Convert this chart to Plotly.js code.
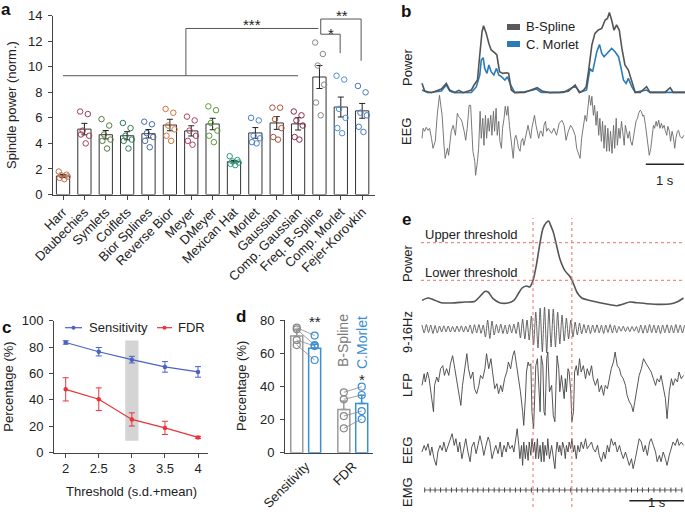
<!DOCTYPE html>
<html><head><meta charset="utf-8">
<script src="https://cdn.plot.ly/plotly-3.0.1.min.js"></script>
<style>html,body{margin:0;padding:0;background:#fff}#chart{width:685px;height:517px}</style>
</head><body><div id="chart"></div>
<script>
// ---------------- Panel a: spindle power per wavelet ----------------
const methods = ['Harr','Daubechies','Symlets','Coiflets','Bior Splines','Reverse Bior','Meyer','DMeyer','Mexican Hat','Morlet','Gaussian','Comp. Gaussian','Freq. B-Spline','Comp. Morlet','Fejer-Korovkin'];
const powerMean = [1.45,5.12,4.68,4.6,4.76,5.44,4.98,5.52,2.57,4.82,5.6,5.53,9.2,6.85,6.55];
const powerSem = [0.12,0.45,0.33,0.32,0.33,0.45,0.4,0.45,0.1,0.42,0.5,0.48,0.9,0.78,0.58];
const powerDots = [
  [1.8,1.55,1.5,1.4,1.3,1.2],
  [6.5,6.3,5.0,4.6,4.7,4.0],
  [5.9,5.4,4.7,4.3,4.2,3.6],
  [5.6,5.2,4.6,4.3,4.2,3.6],
  [5.7,5.5,4.8,4.5,4.2,3.7],
  [6.7,6.4,5.4,5.1,4.6,4.2],
  [6.1,5.8,5.0,4.6,4.2,3.9],
  [6.9,6.6,5.6,5.0,4.6,4.1],
  [3.0,2.7,2.6,2.5,2.4,2.3],
  [6.0,5.8,4.6,4.4,4.1,4.0],
  [6.8,6.8,5.9,5.2,4.5,4.3],
  [6.5,6.2,5.8,5.4,4.5,4.3],
  [11.9,11.0,10.1,8.6,7.2,6.2],
  [9.3,9.0,6.7,6.0,5.2,4.8],
  [8.5,8.0,6.4,6.2,5.3,4.9]
];
const dotColors = ['#c0704a','#a0405a','#5a7a40','#2f7a5a','#4a6aa0','#d8703a','#b04060','#5a9a3a','#2a9a80','#4a80c8','#b0503a','#8a2a4a','#888888','#4a90d8','#4a78c0'];

// ---------------- Panel b: power traces and EEG ----------------
const bsplineT = [0,0.07,0.25,0.51,0.64,0.73,0.86,0.97,1.08,1.30,1.37,1.46,1.52,1.58,1.62,1.69,1.76,1.82,1.91,1.97,2.04,2.13,2.22,2.28,2.35,2.44,2.70,2.92,3.03,3.16,3.37,3.63,3.85,4.03,4.14,4.25,4.32,4.38,4.47,4.55,4.64,4.73,4.82,4.88,4.93,4.99,5.05,5.12,5.19,5.26,5.34,5.43,5.52,5.61,5.74,5.91,6.00,6.26,6.39,6.53,6.61,6.92];
const bsplineP = [9.4,1.7,0,3.7,9.3,2.7,0.3,2.3,0,2.7,7.7,12.7,37.7,61,67,59.3,49.3,42.7,40,37.7,21,19.3,20,19.3,2.7,0,0.3,3.3,5,1.7,0,0.3,1.5,7.7,0,2.5,6,21,47.7,59.3,62.7,64.3,72.7,74.3,80.3,72.7,62.7,67.7,62.7,44.3,27.7,22.7,11,0.3,0.3,6,0.3,0.3,0.3,5,0.3,0.3];
const cmorletT = [0,0.16,0.51,0.64,0.73,0.86,1.30,1.43,1.52,1.56,1.61,1.65,1.71,1.76,1.82,1.89,1.96,2.02,2.09,2.18,2.25,2.33,2.44,2.70,2.92,3.01,3.14,3.72,4.03,4.16,4.33,4.42,4.49,4.60,4.67,4.73,4.79,4.90,4.99,5.08,5.17,5.23,5.30,5.37,5.43,5.52,5.61,5.91,6.00,6.92];
const cmorletP = [2.7,0,1.7,7.7,1.7,0,0.3,6,17.7,32.7,35,24.3,19.3,27.7,21,17.7,24.3,17.7,16,12.7,16,7.7,0.3,1,2.7,3.7,0.3,0.3,6.7,0.3,2.7,24.3,21,41,48.3,39.3,36,41,44.3,41,36,26,12.7,9.3,14.3,6,0.3,2.7,0.3,0.3];
const eegBT = [0.00,0.03,0.07,0.11,0.16,0.20,0.25,0.29,0.35,0.40,0.46,0.53,0.58,0.61,0.67,0.70,0.74,0.77,0.82,0.88,0.93,0.96,1.01,1.05,1.11,1.15,1.19,1.24,1.28,1.32,1.34,1.39,1.41,1.46,1.49,1.53,1.56,1.60,1.63,1.67,1.70,1.74,1.77,1.81,1.84,1.88,1.91,1.95,1.98,2.02,2.05,2.09,2.12,2.16,2.19,2.23,2.26,2.30,2.33,2.37,2.40,2.44,2.47,2.51,2.54,2.58,2.61,2.65,2.68,2.72,2.75,2.79,2.82,2.86,2.89,2.93,2.96,3.00,3.04,3.07,3.11,3.14,3.18,3.21,3.25,3.28,3.32,
  3.41,3.47,3.54,3.61,3.68,3.74,3.79,3.85,3.91,3.96,4.03,4.07,4.11,4.16,4.20,4.25,4.29,4.33,4.38,4.40,4.44,4.47,4.51,4.54,4.58,4.61,4.65,4.68,4.72,4.75,4.79,4.82,4.86,4.89,4.93,4.96,5.00,5.04,5.07,5.11,5.14,5.18,5.21,5.25,5.28,5.32,5.35,5.39,5.42,5.46,5.49,5.53,5.56,5.60,5.63,5.67,5.70,5.74,5.77,5.81,5.84,5.88,5.91,5.95,5.98,6.02,6.05,6.09,6.12,6.16,6.19,6.23,6.26,6.30,6.33,6.37,6.40,6.44,6.47,6.51,6.54,6.58,6.61,6.65,6.68,6.72,6.75,6.79,6.84,6.89];
const eegBV = [0,10,7,11,8,10,0,-10,-3,23,43,23,-7,-20,-10,-17,-3,7,13,3,25,22,20,17,7,-2,10,33,33,7,-13,-23,-37,-23,-10,27,0,20,-7,23,0,20,7,23,3,27,7,30,3,17,-3,-10,10,20,32,23,32,13,3,-7,-20,0,3,-3,-10,-13,-3,0,-7,0,7,13,7,0,10,18,23,13,3,0,7,7,2,13,17,7,10,
  5,10,3,15,18,13,-2,7,13,10,3,-10,-15,-20,0,13,23,17,40,43,33,42,23,33,13,27,3,20,-3,17,-10,13,-13,10,-13,7,-15,13,-10,20,-7,10,0,17,7,-7,13,3,0,7,-3,-7,0,10,17,20,25,28,27,22,23,13,3,-7,-17,-10,3,13,10,17,12,18,10,15,10,13,8,3,12,7,-3,7,2,-10,0,7,8,2,0,3];

// ---------------- Panel c: threshold sweep ----------------
const thresholds = [2,2.5,3,3.5,4];
const thresholdLabels = ['2','2.5','3','3.5','4'];
const sensitivity = [83.5,76.5,70.5,65,61.2];
const sensitivityErr = [1.3,3.2,2.5,4,4];
const fdr = [48,40.5,25.2,18.8,11.6];
const fdrErr = [8.8,8.6,5,5,0.8];

// ---------------- Panel d: B-Spline vs C.Morlet ----------------
const dCategories = ['Sensitivity','FDR'];
const bsplineMean = [70.4,26.1];
const bsplineErr = [4,5];
const cmorletMean = [62.9,29.7];
const cmorletErr = [2.5,5];
const bsplineDots = [[75.4,74.4,67.9,64.9],[36.4,32.2,22.1,14.7]];
const cmorletDots = [[70.6,64.9,64.3,55.9],[39.8,34.8,25.1,20.3]];

// ---------------- Panel e: detection example ----------------
const ePowerT = [0,0.11,0.20,0.35,0.54,0.78,0.96,1.05,1.15,1.21,1.30,1.42,1.57,1.68,1.76,1.83,1.91,1.97,2.03,2.09,2.15,2.21,2.27,2.32,2.34,2.40,2.46,2.52,2.61,2.71,2.77,2.83,2.92,3.07,3.25,3.44,3.56,3.68,3.80,3.92,4.11,4.35,4.53,4.66,4.78];
const ePowerV = [8.3,10.7,9.3,6,5.7,6.7,7.3,11.7,17.3,16.7,10,6,5.7,8.3,15,20.7,22.7,21.7,28.3,43.3,63.3,80,86,87.5,85,76.7,63.3,50,38.3,31.7,25,16.7,10.7,8.3,6,4,3,4.7,6.7,6,5,4.3,4.7,6.7,10.7];
const upperThreshold = 66;
const lowerThreshold = 28.4;
const spindleStart = 2.03;
const spindleEnd = 2.74;
const bandpassDt = 0.04;
const bandpassV = [4,-4,4.5,-3.5,4,-4.5,3.5,-4, 3,-3,3.2,-2.8,3,-3,2.5,-3,3,-2.7,3.2,-3,2.8,-3, 4,-4.5,4.3,-4,4.5,-4.3,4, -8,9,-9.5,8,-6, 4.5,-4,5,-4.5,4,-5,4.5,-4,5,-4.5, 7,-9,10,-10,9,-11, 13,-16,17, -19,21,-23,22,-24,20,-18,20, -18,17,-15,14, -12,11,-10,9,-8, 7,-6,6,-5, 4.5,-4,4,-4.5,4,-3.5,4.2,-4,3.8,-4.5,4,-3.5,4.5,-4,3.7,-3.8, 2.5,-2.2,2.7,-2.5,2.2,-2.7,2.5,-2.2,2.5, -3.8,4,-4.2,3.7,-4,4.5,-3.7,4,-4,3.7,-4.5,4,-3.7,4.2,-4,3.7,-4,4.5,-3.7,4,-4,3.7];
const lfpTimeA = [0.00,0.04,0.06,0.10,0.13,0.17,0.21,0.23,0.27,0.30,0.34,0.38,0.41,0.45,0.49,0.52,0.56,0.60,0.63,0.67,0.71,0.74,0.78,0.82,0.85,0.89,0.93,0.96,1.00,1.04,1.07,1.11,1.15,1.18,1.22,1.26,1.29,1.33,1.37,1.40,1.44,1.47,1.51,1.55,1.58,1.62,1.66,1.69,1.73,1.77,1.80,1.84,1.86,1.89,1.91,1.94,1.96,1.99,2.01,2.04,2.06,2.08,2.11,2.13,2.16,2.18,2.21,2.23,2.25,2.28,2.30,2.33];
const eegTimeA = [0.00,0.04,0.07,0.11,0.15,0.18,0.22,0.26,0.29,0.33,0.37,0.40,0.44,0.48,0.51,0.55,0.59,0.62,0.66,0.69,0.73,0.77,0.80,0.84,0.88,0.91,0.95,0.99,1.02,1.06,1.10,1.13,1.17,1.21,1.24,1.28,1.32,1.35,1.39,1.43,1.46,1.50,1.54,1.57,1.61,1.65,1.68,1.72,1.74,1.77,1.79,1.82,1.84,1.86,1.89,1.91,1.94,1.96,1.99,2.01,2.04,2.06,2.08,2.11,2.13,2.16,2.18,2.21,2.23,2.25,2.28,2.30,2.33];
const tailTime = [2.37,2.40,2.43,2.45,2.47,2.50,2.52,2.55,2.57,2.60,2.62,2.64,2.67,2.69,2.72,2.74,2.77,2.79,2.82,2.85,2.88,2.91,2.95,2.99,3.02,3.06,3.10,3.13,3.17,3.21,3.24,3.28,3.32,3.35,3.39,3.42,3.46,3.50,3.53,3.57,3.61,3.64,3.68,3.72,3.75,3.79,3.83,3.86,3.90,3.94,3.97,4.01,4.05,4.08,4.12,4.16,4.19,4.23,4.27,4.30,4.34,4.37,4.41,4.45,4.48,4.52,4.56,4.59,4.63,4.67,4.70,4.74,4.78];
const lfpV = [-6.7,5,-3.3,6.7,0,-16.7,-33,-6.7,1.7,-3.3,10,13,3.3,10,3.3,15,23,10,0,-10,-26.7,-6.7,10,25,10,0,6.7,-10,-15,-6.7,3.3,0,10,25,10,20,6.7,-10,-5,-15,-6.7,-13,0,6.7,16.7,10,23,28,13,0,-13,-33,-46.7,-20,6.7,16.7,13,15,-33,-50,-13,13,20,-6.7,-33,23,13,-33,-36.7,20,26.7,-13,
  -6.7,-36.7,-43,-6.7,23,10,-13,3.3,-6.7,-20,0,-13,10,6.7,-13,-43,-33,6.7,13,3.3,20,6.7,13,0,10,3.3,13,0,-6.7,0,-13,-6.7,-16.7,-6.7,-10,0,10,16.7,26.7,13,10,3.3,0,-6.7,-16.7,-23,-26.7,-33,-20,-6.7,3.3,10,20,16.7,13,10,6.7,0,-6.7,0,-3.3,3.3,-10,-20,-40,-13,0,-6.7,0,-3.3,6.7,0,3.3];
const eegEV = [-3.3,3.3,-1.7,5,-6.7,1.7,-10,-16.7,-3.3,3.3,-1.7,6.7,-3.3,3.3,10,15,3.3,10,-3.3,6.7,-10,3.3,10,-3.3,-13,1.7,6.7,-5,3.3,13,3.3,-6.7,3.3,11.7,6.7,-10,-1.7,3.3,-5,6.7,-8.3,3.3,-3.3,6.7,0,3.3,-3.3,13,
  20,3.3,-10,3.3,-16.7,6.7,-10,3.3,-11.7,6.7,-6.7,10,-3.3,6.7,-10,10,-10,3.3,-13,6.7,-13,3.3,-6.7,10,-10,
  3.3,-10,-20,-3.3,6.7,-3.3,3.3,-6.7,6.7,0,-10,3.3,-3.3,6.7,0,10,-3.3,3.3,-10,3.3,-3.3,6.7,0,10,0,3.3,6.7,0,-3.3,3.3,-6.7,-13,-3.3,-10,3.3,-3.3,10,3.3,6.7,-3.3,3.3,-3.3,-10,-3.3,-10,-16.7,-10,-20,-10,3.3,10,6.7,-3.3,3.3,-6.7,6.7,10,3.3,-3.3,-13,-6.7,-13,-3.3,-10,-16.7,-6.7,0,6.7,3.3,10,3.3,6.7,3.3];
const emgT = [0.05,0.15,0.24,0.34,0.44,0.54,0.63,0.73,0.83,0.93,1.02,1.12,1.22,1.32,1.41,1.51,1.61,1.71,1.80,1.90,2.00,2.11,2.21,2.32,2.40,2.51,2.61,2.72,2.83,2.92,3.02,3.12,3.22,3.31,3.42,3.53,3.62,3.73,3.83,3.94,4.03,4.14,4.24,4.35,4.44,4.55,4.64,4.75];
const emgV = [0,0,0,0,0,0,0,0,0,0,0,0,0,0,0,0,0,0,0,0,0,0,0,0,0,0,0,0,0,0,0,0,0,0,0,0,0,0,0,0,0,0,0,0,0,0,0,0];

// ---------------- helpers ----------------
const FONT = 'Liberation Sans, Arial, Helvetica, sans-serif';
const W = 685, H = 517;
const PX = x => x / W, PY = y => 1 - y / H;
const TXT = '#222', AX = '#444';
const annotations = [], shapes = [], traces = [];
function ann(text, x, y, o) {
  annotations.push(Object.assign({text: text, x: x, y: y, xref: 'paper', yref: 'paper', showarrow: false,
    xanchor: 'center', yanchor: 'middle', font: {family: FONT, size: 13, color: TXT}}, o || {}));
}
function lineShape(x0, y0, x1, y1, o) {
  shapes.push(Object.assign({type: 'line', x0: x0, y0: y0, x1: x1, y1: y1, xref: 'paper', yref: 'paper',
    line: {color: AX, width: 1}}, o || {}));
}
const axBase = {showgrid: false, zeroline: false, showline: true, linecolor: AX, linewidth: 1,
  ticks: 'outside', ticklen: 4, tickcolor: AX, tickwidth: 1, tickfont: {family: FONT, size: 13, color: TXT}, fixedrange: true};
const hidden = {visible: false, fixedrange: true};

// ---------------- Panel a traces ----------------
const aIdx = methods.map((m, i) => i);
traces.push({type: 'bar', x: aIdx, y: powerMean, width: 0.62, xaxis: 'x', yaxis: 'y',
  marker: {color: '#fff', line: {color: '#333', width: 1}},
  error_y: {type: 'data', array: powerSem, color: '#222', thickness: 1, width: 3}, hoverinfo: 'skip'});
const JIT = [-0.2, 0.16, -0.08, 0.22, -0.16, 0.06];
const dX = [], dY = [], dC = [];
powerDots.forEach((arr, i) => arr.forEach((v, j) => { dX.push(i + JIT[j]); dY.push(v); dC.push(dotColors[i]); }));
traces.push({type: 'scatter', mode: 'markers', x: dX, y: dY, xaxis: 'x', yaxis: 'y',
  marker: {symbol: 'circle-open', size: 5.5, color: dC, line: {width: 1}}, hoverinfo: 'skip'});
// significance brackets
const sLine = {color: '#555', width: 1};
shapes.push({type: 'line', xref: 'x', yref: 'y', x0: 0, x1: 11, y0: 9.3, y1: 9.3, line: sLine});
shapes.push({type: 'path', xref: 'x', yref: 'y', path: 'M 5.75 9.3 L 5.75 13.0 L 11.95 13.0', line: sLine});
shapes.push({type: 'path', xref: 'x', yref: 'y', path: 'M 12.06 12.55 L 12.06 13.74 L 13.95 13.74 L 13.95 10.47', line: sLine});
shapes.push({type: 'path', xref: 'x', yref: 'y', path: 'M 12.06 12.55 L 12.97 12.55 L 12.97 11.07', line: sLine});
const starFont = {family: FONT, size: 15, color: TXT};
annotations.push({text: '***', x: 8.83, y: 13.3, xref: 'x', yref: 'y', showarrow: false, font: starFont});
annotations.push({text: '*', x: 12.55, y: 12.59, xref: 'x', yref: 'y', showarrow: false, font: starFont});
annotations.push({text: '**', x: 13.05, y: 13.98, xref: 'x', yref: 'y', showarrow: false, font: starFont});

// ---------------- Panel b traces ----------------
traces.push({type: 'scatter', mode: 'lines', x: cmorletT, y: cmorletP, xaxis: 'x2', yaxis: 'y2',
  line: {color: '#2b7bb9', width: 1.6}, hoverinfo: 'skip'});
traces.push({type: 'scatter', mode: 'lines', x: bsplineT, y: bsplineP, xaxis: 'x2', yaxis: 'y2',
  line: {color: '#555', width: 1.6}, hoverinfo: 'skip'});
traces.push({type: 'scatter', mode: 'lines', x: eegBT, y: eegBV, xaxis: 'x2', yaxis: 'y3',
  line: {color: '#6a6a6a', width: 0.9}, hoverinfo: 'skip'});
shapes.push({type: 'rect', xref: 'paper', yref: 'paper', x0: PX(507), x1: PX(520), y0: PY(30), y1: PY(24), fillcolor: '#5a5a5a', line: {width: 0}});
shapes.push({type: 'rect', xref: 'paper', yref: 'paper', x0: PX(507), x1: PX(520), y0: PY(47), y1: PY(41), fillcolor: '#2b7bb9', line: {width: 0}});
ann('B-Spline', PX(524), PY(27), {xanchor: 'left'});
ann('C. Morlet', PX(524), PY(44), {xanchor: 'left'});
ann('Power', PX(407), PY(67), {textangle: -90});
ann('EEG', PX(407), PY(132), {textangle: -90});
shapes.push({type: 'line', xref: 'x2', yref: 'paper', x0: 5.89, x1: 6.89, y0: PY(164.3), y1: PY(164.3), line: {color: '#222', width: 1.5}});
annotations.push({text: '1 s', x: 6.39, y: PY(181), xref: 'x2', yref: 'paper', showarrow: false, font: {family: FONT, size: 13, color: TXT}});

// ---------------- Panel c traces ----------------
shapes.push({type: 'rect', xref: 'x3', yref: 'y4', x0: 2.9, x1: 3.1, y0: 9, y1: 85, fillcolor: '#d4d4d4', line: {width: 0}, layer: 'below'});
traces.push({type: 'scatter', mode: 'lines+markers', name: 'Sensitivity', x: thresholds, y: sensitivity, xaxis: 'x3', yaxis: 'y4',
  line: {color: '#4a63c4', width: 1.2}, marker: {color: '#4a63c4', size: 4.5},
  error_y: {type: 'data', array: sensitivityErr, color: '#4a63c4', thickness: 1, width: 3}, hoverinfo: 'skip'});
traces.push({type: 'scatter', mode: 'lines+markers', name: 'FDR', x: thresholds, y: fdr, xaxis: 'x3', yaxis: 'y4',
  line: {color: '#e8343a', width: 1.2}, marker: {color: '#e8343a', size: 4.5},
  error_y: {type: 'data', array: fdrErr, color: '#e8343a', thickness: 1, width: 3}, hoverinfo: 'skip'});
lineShape(PX(65), PY(327.7), PX(82), PY(327.7), {line: {color: '#4a63c4', width: 1.2}});
shapes.push({type: 'circle', xref: 'paper', yref: 'paper', x0: PX(71.5), x1: PX(75.5), y0: PY(329.7), y1: PY(325.7), fillcolor: '#4a63c4', line: {width: 0}});
lineShape(PX(157), PY(327.7), PX(172), PY(327.7), {line: {color: '#e8343a', width: 1.2}});
shapes.push({type: 'circle', xref: 'paper', yref: 'paper', x0: PX(162.5), x1: PX(166.5), y0: PY(329.7), y1: PY(325.7), fillcolor: '#e8343a', line: {width: 0}});
ann('Sensitivity', PX(87), PY(327.7), {xanchor: 'left'});
ann('FDR', PX(176), PY(327.7), {xanchor: 'left'});
ann('Threshold (s.d.+mean)', PX(131), PY(491.7));
ann('Percentage (%)', PX(9), PY(386.7), {textangle: -90});

// ---------------- Panel d traces ----------------
const OFF = 0.19, BW = 0.255;
const catX = dCategories.map((c, i) => i + 1);
const zeros = catX.map(() => 0);
traces.push({type: 'bar', x: catX.map(v => v - OFF), y: bsplineMean, width: BW, xaxis: 'x4', yaxis: 'y5',
  marker: {color: '#fff', line: {color: '#9a9a9a', width: 1.5}},
  error_y: {type: 'data', symmetric: false, array: bsplineErr, arrayminus: zeros, color: '#9a9a9a', thickness: 1.5, width: 3}, hoverinfo: 'skip'});
traces.push({type: 'bar', x: catX.map(v => v + OFF), y: cmorletMean, width: BW, xaxis: 'x4', yaxis: 'y5',
  marker: {color: '#fff', line: {color: '#3b8fd1', width: 1.5}},
  error_y: {type: 'data', symmetric: false, array: cmorletErr, arrayminus: zeros, color: '#3b8fd1', thickness: 1.5, width: 3}, hoverinfo: 'skip'});
const pX = [], pY = [], bX = [], bY = [], cX = [], cY = [];
catX.forEach((c, k) => {
  bsplineDots[k].forEach((v, i) => {
    pX.push(c - OFF, c + OFF, null); pY.push(v, cmorletDots[k][i], null);
    bX.push(c - OFF); bY.push(v); cX.push(c + OFF); cY.push(cmorletDots[k][i]);
  });
});
traces.push({type: 'scatter', mode: 'lines', x: pX, y: pY, xaxis: 'x4', yaxis: 'y5', line: {color: '#888', width: 0.8}, hoverinfo: 'skip'});
traces.push({type: 'scatter', mode: 'markers', x: bX, y: bY, xaxis: 'x4', yaxis: 'y5',
  marker: {symbol: 'circle-open', size: 7, color: '#8a8a8a', line: {width: 1.2}}, hoverinfo: 'skip'});
traces.push({type: 'scatter', mode: 'markers', x: cX, y: cY, xaxis: 'x4', yaxis: 'y5',
  marker: {symbol: 'circle-open', size: 7, color: '#3b8fd1', line: {width: 1.2}}, hoverinfo: 'skip'});
annotations.push({text: '**', x: 1 + OFF, y: 78.8, xref: 'x4', yref: 'y5', showarrow: false, font: starFont});
annotations.push({text: '*', x: 2 + OFF, y: 44.3, xref: 'x4', yref: 'y5', showarrow: false, font: starFont});
ann('B-Spline', PX(343), PY(341), {textangle: -90, font: {family: FONT, size: 14, color: '#7a7a7a'}});
ann('C.Morlet', PX(362), PY(343), {textangle: -90, font: {family: FONT, size: 14, color: '#3b8fd1'}});
ann('Percentage (%)', PX(241), PY(386), {textangle: -90});

// ---------------- Panel e traces ----------------
traces.push({type: 'scatter', mode: 'lines', x: ePowerT, y: ePowerV, xaxis: 'x5', yaxis: 'y6',
  line: {color: '#555', width: 1.6, shape: 'spline', smoothing: 0.8}, hoverinfo: 'skip'});
traces.push({type: 'scatter', mode: 'lines', x: bandpassV.map((v, i) => i * bandpassDt), y: bandpassV, xaxis: 'x5', yaxis: 'y7',
  line: {color: '#555', width: 0.9, shape: 'spline', smoothing: 0.6}, hoverinfo: 'skip'});
traces.push({type: 'scatter', mode: 'lines', x: lfpTimeA.concat(tailTime), y: lfpV, xaxis: 'x5', yaxis: 'y8',
  line: {color: '#444', width: 0.9}, hoverinfo: 'skip'});
traces.push({type: 'scatter', mode: 'lines', x: eegTimeA.concat(tailTime), y: eegEV, xaxis: 'x5', yaxis: 'y9',
  line: {color: '#444', width: 0.9}, hoverinfo: 'skip'});
traces.push({type: 'scatter', mode: 'lines+markers', x: emgT, y: emgV, xaxis: 'x5', yaxis: 'y10',
  line: {color: '#444', width: 0.8}, marker: {symbol: 'line-ns', size: 3.5, color: '#444', line: {width: 1, color: '#444'}}, hoverinfo: 'skip'});
const redDash = {color: '#e8706f', width: 1, dash: '3px,3px'};
[upperThreshold, lowerThreshold].forEach(th => shapes.push({type: 'line', xref: 'paper', yref: 'y6', x0: PX(421), x1: 1, y0: th, y1: th, line: redDash}));
[spindleStart, spindleEnd].forEach(t => shapes.push({type: 'line', xref: 'x5', yref: 'paper', x0: t, x1: t, y0: PY(507), y1: PY(218), line: redDash}));
ann('Upper threshold', PX(423), PY(234.5), {xanchor: 'left'});
ann('Lower threshold', PX(423), PY(272), {xanchor: 'left'});
ann('Power', PX(407), PY(263), {textangle: -90});
ann('9-16Hz', PX(407), PY(332), {textangle: -90});
ann('LFP', PX(407), PY(385), {textangle: -90});
ann('EEG', PX(407), PY(451), {textangle: -90});
ann('EMG', PX(407), PY(492), {textangle: -90});
shapes.push({type: 'line', xref: 'x5', yref: 'paper', x0: 3.79, x1: 4.79, y0: PY(500.7), y1: PY(500.7), line: {color: '#222', width: 1.5}});
annotations.push({text: '1 s', x: 4.29, y: PY(512), xref: 'x5', yref: 'paper', showarrow: false, font: {family: FONT, size: 13, color: TXT}});

// ---------------- panel letters and axis titles ----------------
const letterFont = {family: FONT, size: 17, color: '#111'};
ann('<b>a</b>', PX(6), PY(10), {font: letterFont});
ann('<b>b</b>', PX(406), PY(11.5), {font: letterFont});
ann('<b>c</b>', PX(6), PY(327), {font: letterFont});
ann('<b>d</b>', PX(241), PY(316), {font: letterFont});
ann('<b>e</b>', PX(406), PY(219), {font: letterFont});
ann('Spindle power (norm.)', PX(12), PY(105), {textangle: -90});

const layout = {
  width: W, height: H, margin: {l: 0, r: 0, t: 0, b: 0}, paper_bgcolor: '#fff', plot_bgcolor: 'rgba(0,0,0,0)',
  showlegend: false, barmode: 'overlay', font: {family: FONT, size: 13, color: TXT},
  xaxis: Object.assign({}, axBase, {domain: [PX(53), PX(375)], range: [-0.47, 14.6], anchor: 'y',
    tickvals: aIdx, ticktext: methods, tickangle: -45}),
  yaxis: Object.assign({}, axBase, {domain: [PY(194.5), PY(15.7)], range: [0, 14], dtick: 2, anchor: 'x', ticklabelstandoff: 3}),
  xaxis2: Object.assign({}, hidden, {domain: [PX(421), 1], range: [-0.026, 6.92], anchor: 'y2'}),
  yaxis2: Object.assign({}, hidden, {domain: [PY(94.7), PY(10.7)], range: [-2, 82], anchor: 'x2'}),
  yaxis3: Object.assign({}, hidden, {domain: [PY(183.3), PY(93.3)], range: [-45, 45], anchor: 'x2'}),
  xaxis3: Object.assign({}, axBase, {domain: [PX(54), PX(208)], range: [1.823, 4.151], anchor: 'y4',
    tickvals: thresholds, ticktext: thresholdLabels}),
  yaxis4: Object.assign({}, axBase, {domain: [PY(452.7), PY(320.7)], range: [0, 100], dtick: 20, anchor: 'x3', ticklabelstandoff: 3}),
  xaxis4: Object.assign({}, axBase, {domain: [PX(285), PX(373)], range: [0.56, 2.43], anchor: 'y5',
    tickvals: catX, ticktext: dCategories, tickangle: -45, ticks: ''}),
  yaxis5: Object.assign({}, axBase, {domain: [PY(452.7), PY(320)], range: [0, 80], dtick: 20, anchor: 'x4', ticklabelstandoff: 3}),
  xaxis5: Object.assign({}, hidden, {domain: [PX(421), 1], range: [-0.018, 4.808], anchor: 'y6'}),
  yaxis6: Object.assign({}, hidden, {domain: [PY(313.7), PY(213.7)], range: [-5, 95], anchor: 'x5'}),
  yaxis7: Object.assign({}, hidden, {domain: [PY(354), PY(304)], range: [-25, 25], anchor: 'x5'}),
  yaxis8: Object.assign({}, hidden, {domain: [PY(433.7), PY(343.7)], range: [-55, 35], anchor: 'x5'}),
  yaxis9: Object.assign({}, hidden, {domain: [PY(478.7), PY(418.7)], range: [-30, 30], anchor: 'x5'}),
  yaxis10: Object.assign({}, hidden, {domain: [PY(500), PY(480)], range: [-10, 10], anchor: 'x5'}),
  shapes: shapes, annotations: annotations
};
Plotly.newPlot('chart', traces, layout, {staticPlot: true, displayModeBar: false});
</script>
</body></html>
